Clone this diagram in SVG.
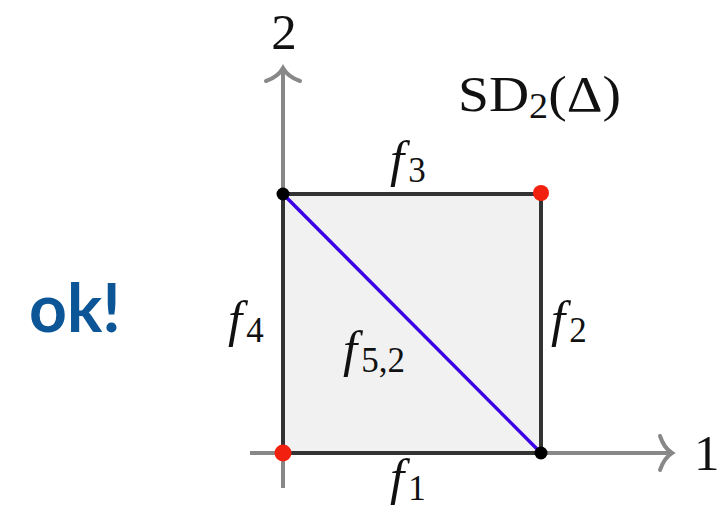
<svg xmlns="http://www.w3.org/2000/svg" width="722" height="509" viewBox="0 0 722 509">
<style>
.lbl{font-family:"Liberation Serif","DejaVu Serif",serif;font-size:51px;fill:#111}
.it{font-style:italic}
.sub{font-size:35px;font-style:normal}
.axis{stroke:#888;stroke-width:4;fill:none}
.ahead{stroke:#888;stroke-width:4;fill:none;stroke-linecap:round}
.edge{stroke:#333;stroke-width:4;fill:none}
</style>
<rect width="722" height="509" fill="#fff"/>
<g id="square">
<rect x="283" y="194" width="258" height="259" fill="#f1f1f1" stroke="none"/>
</g>
<g id="axes">
<line class="axis" x1="283" y1="488" x2="283" y2="69"/>
<path class="ahead" d="M266,81 Q278,77 283,68 Q288,77 300,81"/>
<line class="axis" x1="250" y1="453" x2="670" y2="453"/>
<path class="ahead" d="M660,436 Q664,448 672,453 Q664,458 660,470"/>
</g>
<g id="connectors">
<line class="edge" x1="283" y1="194" x2="541" y2="194"/>
<line class="edge" x1="541" y1="194" x2="541" y2="453"/>
<line class="edge" x1="283" y1="453" x2="541" y2="453"/>
<line class="edge" x1="283" y1="194" x2="283" y2="453"/>
<line x1="283" y1="194" x2="541" y2="453" stroke="#3a00e6" stroke-width="3.5"/>
</g>
<g id="vertices">
<circle cx="283" cy="194" r="6.5" fill="#000"/>
<circle cx="541" cy="193" r="8" fill="#f2200e"/>
<circle cx="283" cy="453" r="8.5" fill="#f2200e"/>
<circle cx="541" cy="453" r="6.5" fill="#000"/>
</g>
<g id="labels">
<text class="lbl" x="284" y="49" text-anchor="middle">2</text>
<text class="lbl" x="694" y="470">1</text>
<text class="lbl" x="458" y="111" textLength="163" lengthAdjust="spacingAndGlyphs">SD<tspan class="sub" dy="7">2</tspan><tspan dy="-7">(Δ)</tspan></text>
<text class="lbl" x="390" y="176"><tspan class="it">f</tspan><tspan class="sub" dx="4" dy="6">3</tspan></text>
<text class="lbl" x="228" y="336"><tspan class="it">f</tspan><tspan class="sub" dx="4" dy="6">4</tspan></text>
<text class="lbl" x="551" y="336"><tspan class="it">f</tspan><tspan class="sub" dx="4" dy="6">2</tspan></text>
<text class="lbl" x="343" y="366"><tspan class="it">f</tspan><tspan class="sub" dx="4" dy="6">5,2</tspan></text>
<text class="lbl" x="390" y="494"><tspan class="it">f</tspan><tspan class="sub" dx="4" dy="6">1</tspan></text>
</g>
<g id="ok">
<text x="29" y="332" font-family="Lato, 'Open Sans', sans-serif" font-weight="bold" font-size="66" fill="#0c5596">ok!</text>
</g>
</svg>
